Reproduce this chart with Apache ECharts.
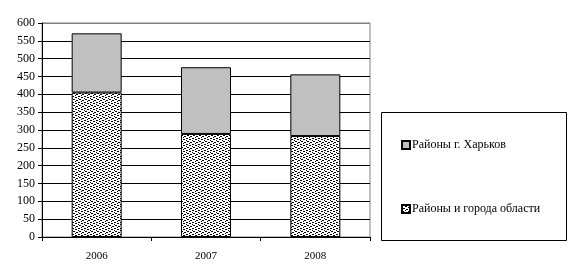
<!DOCTYPE html>
<html><head><meta charset="utf-8">
<script src="https://cdn.jsdelivr.net/npm/echarts@6/dist/echarts.min.js"></script>
<style>html,body{margin:0;padding:0;background:#fff}#c{width:570px;height:280px}</style>
</head><body><div id="c"></div>
<script>
var categories = ['2006', '2007', '2008'];
var seriesNames = ['Районы и города области', 'Районы г. Харьков'];
var regionValues = [405, 289, 283];
var kharkivValues = [166, 187, 173];
var yTicks = [0, 50, 100, 150, 200, 250, 300, 350, 400, 450, 500, 550, 600];

function makePattern() {
  var cv = document.createElement('canvas');
  cv.width = 6; cv.height = 6;
  var ctx = cv.getContext('2d');
  ctx.fillStyle = '#fff'; ctx.fillRect(0, 0, 6, 6);
  ctx.fillStyle = '#000';
  ctx.fillRect(0, 0, 2, 1); ctx.fillRect(3, 1, 2, 1);
  ctx.fillRect(1, 3, 2, 1); ctx.fillRect(4, 4, 2, 1);
  ctx.fillRect(0, 2, 1, 1); ctx.fillRect(3, 5, 1, 1);
  return cv;
}
var splitColors = yTicks.map(function (v, i) { return i === yTicks.length - 1 ? '#808080' : '#000'; });
var font = '"Liberation Serif", "Times New Roman", serif';
var chart = echarts.init(document.getElementById('c'), null, {renderer: 'canvas'});
chart.setOption({
  animation: false,
  backgroundColor: '#fff',
  textStyle: {fontFamily: font},
  grid: {left: 42, right: 200, top: 23, bottom: 43, show: true, borderColor: '#808080', borderWidth: 1},
  graphic: [{type: 'rect', shape: {x: 381.5, y: 112.5, width: 185, height: 128}, style: {fill: '#fff', stroke: '#000', lineWidth: 1}, z: 0}],
  legend: {
    orient: 'vertical', left: 396, top: 134, itemGap: 52,
    itemWidth: 8, itemHeight: 8, icon: 'rect',
    data: [seriesNames[1], seriesNames[0]],
    textStyle: {fontFamily: font, fontSize: 12, color: '#000', padding: [0, 0, 0, -3]},
    z: 5
  },
  xAxis: {
    type: 'category', data: categories,
    axisLine: {lineStyle: {color: '#000'}},
    axisTick: {show: true, length: 4, lineStyle: {color: '#000'}},
    axisLabel: {color: '#000', fontSize: 11, fontFamily: font, margin: 14}
  },
  yAxis: {
    type: 'value', min: 0, max: 600, interval: 50,
    axisLine: {show: true, lineStyle: {color: '#000'}},
    axisTick: {show: true, length: 4, lineStyle: {color: '#000'}},
    axisLabel: {color: '#000', fontSize: 12, fontFamily: font, margin: 7,
      formatter: function (v) { return yTicks.indexOf(v) >= 0 ? String(v) : ''; }},
    splitLine: {lineStyle: {color: splitColors}}
  },
  series: [
    {name: seriesNames[0], type: 'bar', stack: 's', data: regionValues, barWidth: 50,
     itemStyle: {color: {image: makePattern(), repeat: 'repeat'}, borderColor: '#000', borderWidth: 1}},
    {name: seriesNames[1], type: 'bar', stack: 's', data: kharkivValues, barWidth: 50,
     itemStyle: {color: '#c0c0c0', borderColor: '#000', borderWidth: 1}}
  ]
});
</script></body></html>
